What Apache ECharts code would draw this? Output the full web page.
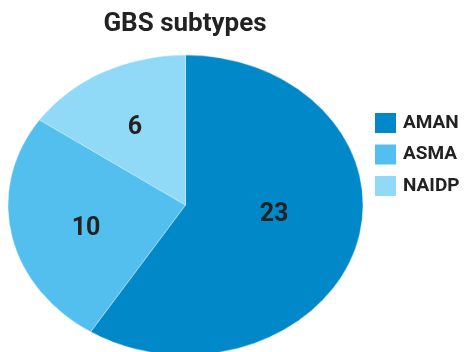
<!DOCTYPE html>
<html>
<head>
<meta charset="utf-8">
<script src="https://cdn.jsdelivr.net/npm/echarts@6/dist/echarts.min.js"></script>
<style>
    html, body { margin: 0; padding: 0; background: #fff; }
    #wrap { position: relative; width: 466px; height: 352px; overflow: hidden; }
    /* pie is drawn round, then squashed to the ellipse of the reference */
    #pie { position: absolute; left: 0; top: 0; width: 466px; height: 400px;
           transform: scaleY(0.845); transform-origin: 0 205px; }
    #top { position: absolute; left: 0; top: 0; width: 466px; height: 352px; }
</style>
</head>
<body>
<div id="wrap">
    <div id="pie"></div>
    <div id="top"></div>
</div>
<script>
    var names = ['AMAN', 'ASMA', 'NAIDP'];
    var counts = [23, 10, 6];
    var colors = ['#0088c9', '#52bfee', '#90d9f7'];
    var title = 'GBS subtypes';
    // small nudges of the number labels, as placed in the original
    var labelNudge = [[-2, -16], [2, 6], [0, 12]];

    var dataList = names.map(function (n, i) {
        return {name: n, value: counts[i]};
    });

    // 饼图本体（被压扁）
    var pieChart = echarts.init(document.getElementById('pie'));
    pieChart.setOption({
        animation: false,
        color: colors,
        series: [{
            type: 'pie',
            center: [185.5, 205],
            radius: 177.5,
            startAngle: 90,
            clockwise: true,
            label: {show: false},
            labelLine: {show: false},
            itemStyle: {borderColor: 'rgba(255,255,255,0.6)', borderWidth: 0.6},
            data: dataList
        }]
    });

    // 标题、图例、数字（不压扁）
    var topChart = echarts.init(document.getElementById('top'));
    topChart.setOption({
        animation: false,
        title: {
            text: title,
            left: 180,
            textAlign: 'center',
            top: 6,
            textStyle: {fontFamily: 'Roboto', fontWeight: 'bold', fontSize: 26, color: '#222'}
        },
        legend: {
            orient: 'vertical',
            left: 375,
            top: 113,
            padding: 0,
            icon: 'rect',
            itemWidth: 21,
            itemHeight: 20,
            itemGap: 11.5,
            textStyle: {fontFamily: 'Roboto', fontWeight: 'bold', fontSize: 19, color: '#222', padding: [0, 0, 0, 2]},
            data: names.map(function (n, i) {
                return {name: n, itemStyle: {color: colors[i]}};
            })
        },
        series: [{
            type: 'pie',
            center: [181, 203],
            radius: 192,
            startAngle: 90,
            clockwise: true,
            silent: true,
            itemStyle: {color: 'rgba(0,0,0,0)'},
            label: {
                show: true,
                position: 'inside',
                formatter: '{c}',
                fontFamily: 'Roboto',
                fontWeight: 'bold',
                fontSize: 25,
                color: '#222'
            },
            labelLine: {show: false},
            data: dataList.map(function (d, i) {
                return {name: d.name, value: d.value, label: {offset: labelNudge[i]}};
            })
        }]
    });
</script>
</body>
</html>
